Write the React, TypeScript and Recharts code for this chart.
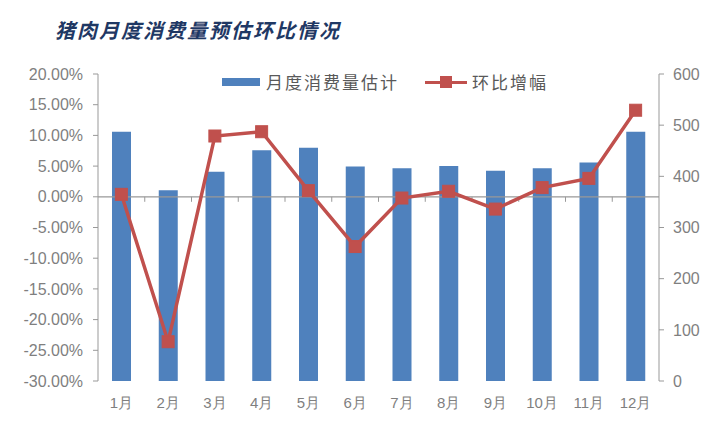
import React from 'react';
import { ComposedChart, Bar, Line, XAxis, YAxis, ReferenceLine } from 'recharts';

const months = ['1月', '2月', '3月', '4月', '5月', '6月', '7月', '8月', '9月', '10月', '11月', '12月'];
const consumption = [487, 373, 409, 451, 456, 419, 416, 420, 411, 416, 427, 487];
const momPct = [0.4, -23.6, 9.9, 10.6, 1.0, -8.1, -0.2, 0.9, -2.0, 1.5, 3.0, 14.1];
const leftTicks = [-30, -25, -20, -15, -10, -5, 0, 5, 10, 15, 20];
const rightTicks = [0, 100, 200, 300, 400, 500, 600];
const seriesNames = ['月度消费量估计', '环比增幅'];

const data = months.map((m, i) => ({ month: m, consumption: consumption[i], mom: momPct[i] }));

const BLUE = '#4F81BD';
const RED = '#C0504D';
const GRAY = '#7f7f7f';
const AXIS = '#999999';
const FONT = 'Liberation Sans, Arial, sans-serif';

const SquareDot = (props: any) => {
  const { cx, cy } = props;
  if (cx == null || cy == null) return null;
  return <rect x={cx - 6} y={cy - 6} width={12} height={12} fill={RED} stroke={RED} strokeWidth={1} />;
};

const ZeroLine = (props: any) => {
  const { x1, y1, x2, y2 } = props;
  const n = months.length;
  const step = (x2 - x1) / n;
  const ticks = [];
  for (let i = 1; i < n; i++) {
    const x = x1 + step * i;
    ticks.push(<line key={i} x1={x} x2={x} y1={y1} y2={y1 + 5} stroke={AXIS} strokeWidth={1} />);
  }
  return (
    <g>
      <line x1={x1} y1={y1} x2={x2} y2={y2} stroke={AXIS} strokeWidth={1.2} />
      {ticks}
    </g>
  );
};

const LegendBox = () => (
  <div
    style={{
      position: 'absolute',
      left: 222,
      top: 71,
      display: 'flex',
      alignItems: 'center',
      fontFamily: 'Noto Sans CJK SC, sans-serif',
      fontSize: 17,
      lineHeight: '22px',
      color: '#595959',
      letterSpacing: 2,
      zIndex: 2,
    }}
  >
    <div style={{ width: 38, height: 8, background: BLUE, marginRight: 6 }} />
    <span>{seriesNames[0]}</span>
    <div style={{ position: 'relative', width: 42, height: 12, marginLeft: 26, marginRight: 5 }}>
      <div style={{ position: 'absolute', left: 0, top: 4.5, width: 42, height: 3.5, background: RED }} />
      <div style={{ position: 'absolute', left: 15, top: 0, width: 12, height: 12, background: RED }} />
    </div>
    <span>{seriesNames[1]}</span>
  </div>
);

export default function App() {
  return (
    <div style={{ position: 'absolute', left: 0, top: 0, width: 721, height: 433, background: '#fff' }}>
      <div
        style={{
          position: 'absolute',
          left: 55,
          top: 18,
          fontFamily: 'Noto Sans CJK SC, sans-serif',
          fontSize: 20,
          fontWeight: 'bold',
          fontStyle: 'italic',
          color: '#1F3864',
          letterSpacing: 2,
          lineHeight: '24px',
          zIndex: 2,
        }}
      >
        猪肉月度消费量预估环比情况
      </div>
      <LegendBox />
      <ComposedChart width={721} height={433} data={data} margin={{ top: 74, right: 0, bottom: 0, left: 0 }}>
        <XAxis
          dataKey="month"
          axisLine={false}
          tickLine={false}
          height={52}
          tickMargin={10}
          tick={{ fontSize: 15, fill: GRAY, fontFamily: FONT }}
          interval={0}
        />
        <YAxis
          yAxisId="left"
          orientation="left"
          width={98}
          domain={[-30, 20]}
          ticks={leftTicks}
          interval={0}
          tickFormatter={(v: number) => v.toFixed(2) + '%'}
          axisLine={{ stroke: AXIS }}
          tickLine={{ stroke: AXIS }}
          tickSize={5}
          tickMargin={10}
          tick={{ fontSize: 16, fill: GRAY, fontFamily: FONT }}
          allowDataOverflow
        />
        <YAxis
          yAxisId="right"
          orientation="right"
          width={62}
          domain={[0, 600]}
          ticks={rightTicks}
          interval={0}
          axisLine={{ stroke: AXIS }}
          tickLine={{ stroke: AXIS }}
          tickSize={5}
          tickMargin={9}
          tick={{ fontSize: 16, fill: GRAY, fontFamily: FONT }}
        />
        <Bar yAxisId="right" dataKey="consumption" name={seriesNames[0]} fill={BLUE} barSize={19} isAnimationActive={false} />
        <ReferenceLine yAxisId="left" y={0} shape={ZeroLine} ifOverflow="extendDomain" />
        <Line
          yAxisId="left"
          dataKey="mom"
          name={seriesNames[1]}
          stroke={RED}
          strokeWidth={3.5}
          dot={<SquareDot />}
          activeDot={false}
          isAnimationActive={false}
        />
      </ComposedChart>
    </div>
  );
}
